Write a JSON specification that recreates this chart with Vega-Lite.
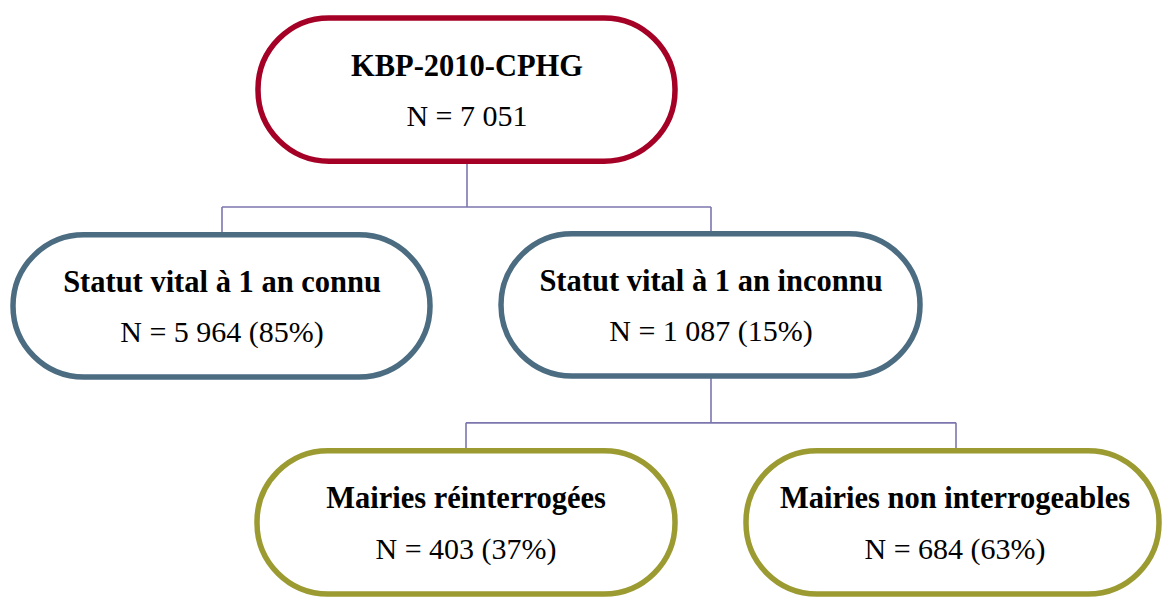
{
  "$schema": "https://vega.github.io/schema/vega-lite/v6.json",
  "width": 1163,
  "height": 597,
  "padding": 0,
  "autosize": {"type": "fit", "contains": "padding"},
  "background": "white",
  "config": {"view": {"stroke": null}},
  "datasets": {
    "nodes": [
      {"node": "root", "title": "KBP-2010-CPHG", "count": "N = 7 051", "level": "niveau 1", "x1": 258, "x2": 675, "y1": 18, "y2": 162, "cx": 467, "cy": 90},
      {"node": "connu", "title": "Statut vital à 1 an connu", "count": "N = 5 964 (85%)", "level": "niveau 2", "x1": 13, "x2": 430, "y1": 236, "y2": 379, "cx": 222, "cy": 307.5},
      {"node": "inconnu", "title": "Statut vital à 1 an inconnu", "count": "N = 1 087 (15%)", "level": "niveau 2", "x1": 501, "x2": 920, "y1": 235, "y2": 378, "cx": 711, "cy": 306.5},
      {"node": "reint", "title": "Mairies réinterrogées", "count": "N = 403 (37%)", "level": "niveau 3", "x1": 257, "x2": 675, "y1": 453, "y2": 597, "cx": 466, "cy": 525},
      {"node": "noninterr", "title": "Mairies non interrogeables", "count": "N = 684 (63%)", "level": "niveau 3", "x1": 746, "x2": 1159, "y1": 453, "y2": 597, "cx": 955, "cy": 525}
    ],
    "links": [
      {"x1": 467, "y1": 162, "x2": 467, "y2": 208},
      {"x1": 222, "y1": 208, "x2": 711, "y2": 208},
      {"x1": 222, "y1": 208, "x2": 222, "y2": 236},
      {"x1": 711, "y1": 208, "x2": 711, "y2": 235},
      {"x1": 711, "y1": 378, "x2": 711, "y2": 425},
      {"x1": 466, "y1": 425, "x2": 956, "y2": 425},
      {"x1": 466, "y1": 425, "x2": 466, "y2": 453},
      {"x1": 956, "y1": 425, "x2": 956, "y2": 453}
    ]
  },
  "layer": [
    {
      "data": {"name": "links"},
      "mark": {"type": "rule", "color": "#7B76AE", "strokeWidth": 1.6},
      "encoding": {
        "x": {"field": "x1", "type": "quantitative", "scale": {"domain": [0, 1163], "nice": false, "zero": false}, "axis": null},
        "x2": {"field": "x2"},
        "y": {"field": "y1", "type": "quantitative", "scale": {"domain": [0, 597], "nice": false, "zero": false, "reverse": true}, "axis": null},
        "y2": {"field": "y2"}
      }
    },
    {
      "data": {"name": "nodes"},
      "mark": {"type": "rect", "fill": "white", "strokeWidth": 5.5, "cornerRadius": 71},
      "encoding": {
        "x": {"field": "x1", "type": "quantitative", "scale": {"domain": [0, 1163], "nice": false, "zero": false}, "axis": null},
        "x2": {"field": "x2"},
        "y": {"field": "y1", "type": "quantitative", "scale": {"domain": [0, 597], "nice": false, "zero": false, "reverse": true}, "axis": null},
        "y2": {"field": "y2"},
        "stroke": {"field": "level", "type": "nominal", "scale": {"domain": ["niveau 1", "niveau 2", "niveau 3"], "range": ["#A50026", "#4C6C82", "#9C9B32"]}, "legend": null}
      }
    },
    {
      "data": {"name": "nodes"},
      "mark": {"type": "text", "font": "Liberation Serif", "fontWeight": "bold", "fontSize": 30.5, "baseline": "alphabetic", "align": "center", "dy": -14, "color": "black"},
      "encoding": {
        "x": {"field": "cx", "type": "quantitative", "scale": {"domain": [0, 1163], "nice": false, "zero": false}, "axis": null},
        "y": {"field": "cy", "type": "quantitative", "scale": {"domain": [0, 597], "nice": false, "zero": false, "reverse": true}, "axis": null},
        "text": {"field": "title"}
      }
    },
    {
      "data": {"name": "nodes"},
      "mark": {"type": "text", "font": "Liberation Serif", "fontWeight": "normal", "fontSize": 30, "baseline": "alphabetic", "align": "center", "dy": 36.5, "color": "black"},
      "encoding": {
        "x": {"field": "cx", "type": "quantitative", "scale": {"domain": [0, 1163], "nice": false, "zero": false}, "axis": null},
        "y": {"field": "cy", "type": "quantitative", "scale": {"domain": [0, 597], "nice": false, "zero": false, "reverse": true}, "axis": null},
        "text": {"field": "count"}
      }
    }
  ]
}
